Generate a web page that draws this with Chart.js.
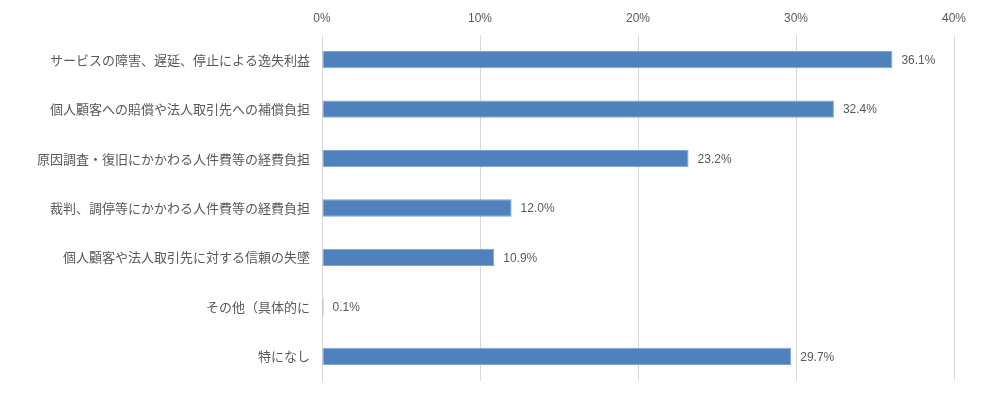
<!DOCTYPE html>
<html lang="ja">
<head>
<meta charset="utf-8">
<script src="https://cdn.jsdelivr.net/npm/chart.js@4"></script>
<style>
  html, body { margin: 0; padding: 0; background: #fff; overflow: hidden; }
  canvas { display: block; }
</style>
</head>
<body>
<canvas id="damage-chart" width="1000" height="395"></canvas>
<script>
const categories = [
    'サービスの障害、遅延、停止による逸失利益',
    '個人顧客への賠償や法人取引先への補償負担',
    '原因調査・復旧にかかわる人件費等の経費負担',
    '裁判、調停等にかかわる人件費等の経費負担',
    '個人顧客や法人取引先に対する信頼の失墜',
    'その他（具体的に',
    '特になし'
];
const shares = [36.1, 32.4, 23.2, 12.0, 10.9, 0.1, 29.7];
const tickValues = [0, 10, 20, 30, 40];

const textColor = '#595959';

// draws "36.1%" just right of each bar end
const valueLabels = {
    id: 'valueLabels',
    afterDatasetsDraw(chart) {
        const ctx = chart.ctx;
        const meta = chart.getDatasetMeta(0);
        ctx.save();
        ctx.font = '12px "Liberation Sans", Arial, sans-serif';
        ctx.fillStyle = textColor;
        ctx.textAlign = 'left';
        ctx.textBaseline = 'middle';
        meta.data.forEach((bar, i) => {
            ctx.fillText(shares[i].toFixed(1) + '%', bar.x + 9, bar.y + 1);
        });
        ctx.restore();
    }
};

document.addEventListener('DOMContentLoaded', function() {
    const ctx = document.getElementById('damage-chart').getContext('2d');
    new Chart(ctx, {
        type: 'bar',
        data: {
            labels: categories,
            datasets: [{
                data: shares,
                backgroundColor: '#4F81BD',
                borderColor: '#7FA3D3',
                borderWidth: 1,
                borderSkipped: false,
                categoryPercentage: 1,
                barPercentage: 0.35
            }]
        },
        options: {
            indexAxis: 'y',
            responsive: false,
            animation: false,
            layout: { padding: { top: 0, right: 46, bottom: 14, left: 0 } },
            plugins: {
                legend: { display: false },
                tooltip: { enabled: false }
            },
            scales: {
                x: {
                    position: 'top',
                    min: 0,
                    max: 40,
                    afterBuildTicks(axis) {
                        axis.ticks = tickValues.map(v => ({ value: v }));
                    },
                    afterFit(axis) { axis.height = 35; },
                    grid: { color: '#D9D9D9', lineWidth: 1, drawTicks: false },
                    border: { display: false },
                    ticks: {
                        padding: 9,
                        color: textColor,
                        font: { size: 12, family: '"Liberation Sans", Arial, sans-serif' },
                        callback: v => v + '%'
                    }
                },
                y: {
                    afterFit(axis) {
                        axis.width = 322;
                        axis.paddingTop = 0;
                        axis.paddingBottom = 0;
                    },
                    grid: { display: false, drawTicks: false },
                    border: { display: true, color: '#D9D9D9' },
                    ticks: {
                        padding: 12,
                        color: textColor,
                        font: { size: 13, family: '"Noto Sans CJK JP", sans-serif' }
                    }
                }
            }
        },
        plugins: [valueLabels]
    });
});
</script>
</body>
</html>
